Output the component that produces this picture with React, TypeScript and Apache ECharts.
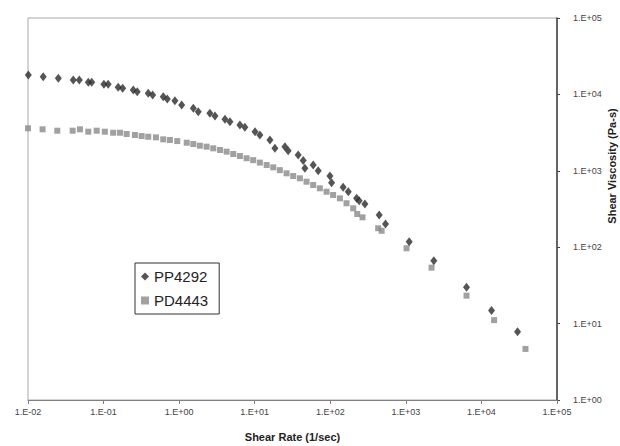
import React, { useEffect, useRef } from "react";
import * as echarts from "echarts";

// Shear rate (1/sec) and shear viscosity (Pa-s)
const pp4292Rate = [
  0.0101, 0.0159, 0.0252, 0.0397, 0.0477, 0.0628, 0.0697, 0.101, 0.115, 0.156,
  0.179, 0.247, 0.279, 0.39, 0.446, 0.616, 0.697, 0.879, 1.08, 1.54,
  1.79, 2.55, 2.98, 4.04, 4.7, 6.37, 7.41, 10.1, 11.7, 15.9,
  18.5, 25.1, 27.7, 37.6, 43.8, 46.1, 59.4, 69.2, 98.9, 104,
  148, 173, 223, 241, 287, 444, 538, 1107, 2344, 6350,
  13600, 30060,
];
const pp4292Visc = [
  17950, 17060, 16250, 15420, 15420, 14390, 14390, 13550, 13550, 12390,
  12020, 11430, 10850, 10330, 9820, 9330, 8710, 8280, 7270, 6580,
  5940, 5660, 5210, 4720, 4390, 3970, 3710, 3250, 2940, 2530,
  1970, 2070, 1830, 1610, 1360, 1080, 1190, 1000, 855, 698,
  608, 532, 436, 406, 367, 264, 201, 118, 66.5, 29.9,
  14.8, 7.84,
];
const pd4443Rate = [
  0.01, 0.0156, 0.0244, 0.039, 0.0487, 0.0628, 0.0811, 0.104, 0.134, 0.165,
  0.202, 0.26, 0.319, 0.39, 0.493, 0.616, 0.755, 0.944, 1.26, 1.54,
  1.88, 2.31, 2.83, 3.47, 4.25, 5.2, 6.37, 7.81, 9.55, 11.7,
  14.4, 17.6, 21.5, 26.4, 32.3, 39.6, 48.5, 59.4, 72.8, 89.3,
  109, 134, 164, 201, 227, 267, 430, 478, 1021, 2188,
  6350, 14720, 38280,
];
const pd4443Visc = [
  3600, 3490, 3350, 3350, 3490, 3250, 3350, 3250, 3150, 3150,
  3030, 2940, 2850, 2790, 2740, 2580, 2530, 2450, 2330, 2240,
  2130, 2070, 1970, 1870, 1780, 1660, 1560, 1460, 1380, 1280,
  1190, 1110, 1020, 927, 855, 798, 720, 652, 590, 532,
  482, 436, 376, 323, 272, 246, 177, 164, 96.8, 54.0,
  23.2, 11.1, 4.66,
];
const seriesNames = ["PP4292", "PD4443"];
const xTitle = "Shear Rate (1/sec)";
const yTitle = "Shear Viscosity (Pa-s)";

const FONT = "'Liberation Sans', Arial, sans-serif";

function sciLabel(v: number): string {
  const e = Math.round(Math.log10(v));
  const s = e < 0 ? "-" : "+";
  const a = Math.abs(e);
  return "1.E" + s + (a < 10 ? "0" + a : String(a));
}

export default function App() {
  const ref = useRef<HTMLDivElement>(null);
  useEffect(() => {
    if (!ref.current) return;
    const chart = echarts.init(ref.current, null, { renderer: "svg" });
    const ppData = pp4292Rate.map((x, i) => [x, pp4292Visc[i]]);
    const pdData = pd4443Rate.map((x, i) => [x, pd4443Visc[i]]);
    chart.setOption({
      animation: false,
      backgroundColor: "#ffffff",
      textStyle: { fontFamily: FONT },
      grid: {
        left: 28,
        right: 63,
        top: 18,
        bottom: 46,
        show: true,
        borderColor: "#a8a8a8",
        borderWidth: 1,
        containLabel: false,
        outerBoundsMode: "none",
      },
      legend: {
        orient: "vertical",
        left: 135,
        top: 263,
        padding: [6, 11, 6, 6],
        itemGap: 9,
        itemWidth: 8,
        itemHeight: 8,
        borderColor: "#333333",
        borderWidth: 1,
        backgroundColor: "#ffffff",
        textStyle: { fontFamily: FONT, fontSize: 15, color: "#222222" },
        data: [
          { name: seriesNames[0], icon: "diamond" },
          { name: seriesNames[1], icon: "rect" },
        ],
      },
      xAxis: {
        type: "log",
        logBase: 10,
        min: 0.01,
        max: 100000,
        interval: 1,
        splitNumber: 7,
        name: xTitle,
        nameLocation: "middle",
        nameGap: 31,
        nameTextStyle: { fontFamily: FONT, fontSize: 11, fontWeight: "bold", color: "#222" },
        axisLine: { show: true, onZero: false, lineStyle: { color: "#808080", width: 1 } },
        axisTick: { show: true, inside: false, length: 4, lineStyle: { color: "#808080" } },
        axisLabel: {
          formatter: (v: number) => sciLabel(v),
          fontFamily: FONT,
          fontSize: 9,
          color: "#444",
          margin: 7,
        },
        splitLine: { show: false },
        minorTick: { show: false },
      },
      yAxis: {
        type: "log",
        logBase: 10,
        position: "right",
        min: 1,
        max: 100000,
        interval: 1,
        splitNumber: 5,
        axisLine: { show: true, onZero: false, lineStyle: { color: "#404040", width: 1.5 } },
        axisTick: { show: true, inside: false, length: 3, lineStyle: { color: "#404040" } },
        axisLabel: {
          formatter: (v: number) => sciLabel(v),
          fontFamily: FONT,
          fontSize: 9,
          color: "#444",
          margin: 16,
        },
        splitLine: { show: false },
        minorTick: { show: false },
      },
      graphic: [
        {
          type: "text",
          x: 612,
          y: 166,
          rotation: Math.PI / 2,
          style: {
            text: yTitle,
            fontFamily: FONT,
            fontSize: 11,
            fontWeight: "bold",
            fill: "#222",
            align: "center",
            verticalAlign: "middle",
          },
        },
      ],
      series: [
        {
          name: seriesNames[0],
          type: "scatter",
          symbol: "diamond",
          symbolSize: [7, 9],
          itemStyle: { color: "#2a2a2a" },
          data: ppData,
          z: 3,
        },
        {
          name: seriesNames[1],
          type: "scatter",
          symbol: "rect",
          symbolSize: 6,
          itemStyle: { color: "#8a8a8a" },
          data: pdData,
          z: 2,
        },
      ],
    });
    return () => chart.dispose();
  }, []);
  return <div ref={ref} style={{ width: 620, height: 446, position: "absolute", left: 0, top: 0 }} />;
}
